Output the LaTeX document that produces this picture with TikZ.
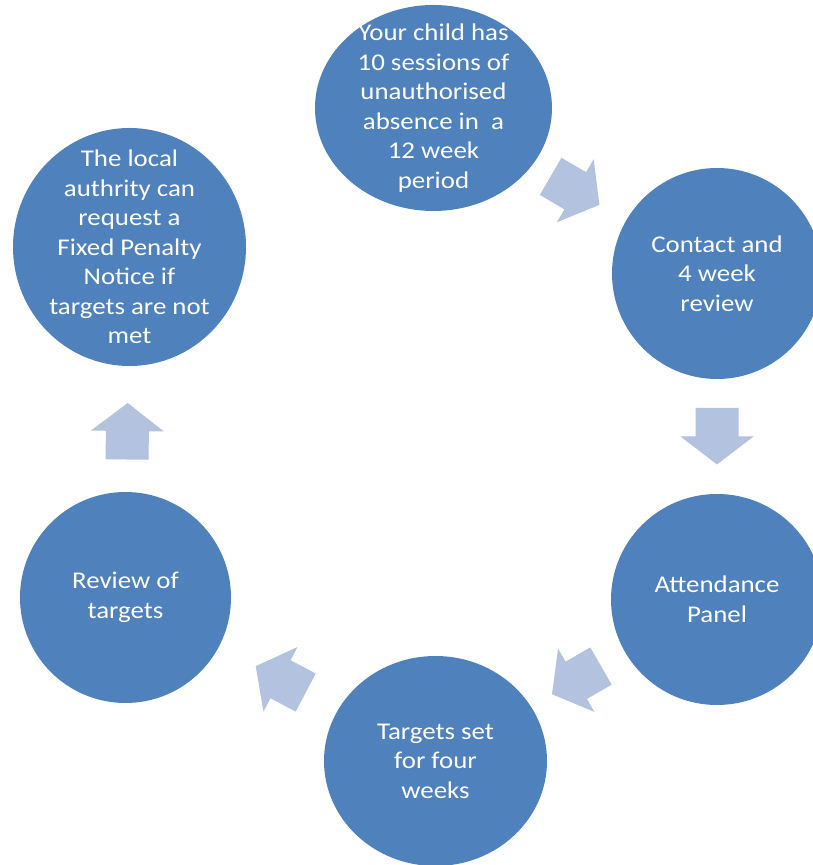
\documentclass[tikz,border=0pt]{standalone}
\usepackage{fontspec}
\setmainfont{Carlito}[FakeStretch=1.12]
\usepackage{tikz}
\usetikzlibrary{shapes}
\usetikzlibrary{calc}
\definecolor{circleblue}{RGB}{79,129,189}
\definecolor{arrowblue}{RGB}{179,194,222}
\tikzset{
    stage/.style={ellipse, fill=circleblue, draw=none, inner sep=0pt},
    stagetext/.style={text=white, align=center, inner sep=0pt,
        font=\fontsize{24}{29.5}\selectfont},
    blockarrow/.pic={\fill[arrowblue] (-28.5,-21.5) -- (0,-21.5) -- (0,-36.5) -- (28,0)
        -- (0,36.5) -- (0,21.5) -- (-28.5,21.5) -- cycle;},
}
% arrow half way (or #1 of the way) from one stage to the next
\newcommand{\cyclearrow}[3][0.5]{%
    \path let \p1=(#2.center), \p2=(#3.center), \n1={atan2(\y2-\y1,\x2-\x1)} in
        ($(#2.center)!#1!(#3.center)$) pic[rotate=\n1] {blockarrow};}

\begin{document}
\begin{tikzpicture}[x=1pt, y=1pt]
	\useasboundingbox (0,0) rectangle (812,865);
	\node[stage, minimum width=237pt, minimum height=206pt,
		label={[stagetext]center:Your child has\\10 sessions of\\unauthorised\\absence in\ \ a\\12 week\\period}]
		(absence) at (433.5,757) {};
	\node[stage, minimum width=210pt, minimum height=211pt,
		label={[stagetext]center:Contact and\\4 week\\review}] (contact) at (717,591.5) {};
	\node[stage, minimum width=212pt, minimum height=211pt,
		label={[stagetext]center:Attendance\\Panel}] (panel) at (717,265.5) {};
	\node[stage, minimum width=223pt, minimum height=210pt,
		label={[stagetext]center:Targets set\\for four\\weeks}] (targets) at (435.5,104) {};
	\node[stage, minimum width=211pt, minimum height=211pt,
		label={[stagetext]center:Review of\\targets}] (review) at (125.5,267.5) {};
	\node[stage, minimum width=233pt, minimum height=238pt,
		label={[stagetext]center:The local\\authrity can\\request a\\Fixed Penalty\\Notice if\\targets are not\\met}]
		(penalty) at (129.5,618) {};
%
	\cyclearrow{absence}{contact}
	\cyclearrow{contact}{panel}
	\cyclearrow{panel}{targets}
	\cyclearrow{targets}{review}
	\cyclearrow[0.475]{review}{penalty}
\end{tikzpicture}
\end{document}
